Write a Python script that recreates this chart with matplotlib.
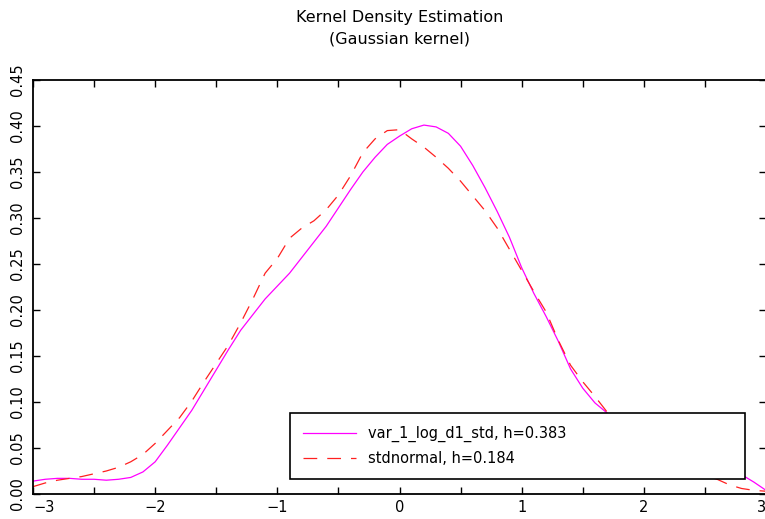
import numpy as np
import matplotlib
matplotlib.use("Agg")
import matplotlib.pyplot as plt
from matplotlib.ticker import MultipleLocator, FormatStrFormatter

# KDE of the standardised series (Gaussian kernel) vs. standard normal
x_data = [-3.0, -2.9, -2.8, -2.7, -2.6, -2.5, -2.4, -2.3, -2.2, -2.1,
          -2.0, -1.9, -1.8, -1.7, -1.6, -1.5, -1.4, -1.3, -1.2, -1.1,
          -1.0, -0.9, -0.8, -0.7, -0.6, -0.5, -0.4, -0.3, -0.2, -0.1,
          0.0, 0.1, 0.2, 0.3, 0.4, 0.5, 0.6, 0.7, 0.8, 0.9,
          1.0, 1.1, 1.2, 1.3, 1.4, 1.5, 1.6, 1.7, 1.8, 1.9,
          2.0, 2.2, 2.4, 2.6, 2.8, 2.9, 3.0]
kde_data = [0.014, 0.016, 0.017, 0.017, 0.016, 0.016, 0.015, 0.016, 0.018, 0.024,
            0.035, 0.053, 0.072, 0.091, 0.113, 0.135, 0.157, 0.178, 0.195, 0.212,
            0.226, 0.240, 0.257, 0.274, 0.291, 0.311, 0.331, 0.350, 0.366, 0.380,
            0.389, 0.397, 0.401, 0.399, 0.392, 0.378, 0.357, 0.333, 0.307, 0.279,
            0.246, 0.218, 0.193, 0.166, 0.136, 0.115, 0.099, 0.088, 0.078, 0.069,
            0.061, 0.049, 0.039, 0.031, 0.021, 0.013, 0.004]

x_norm = [-3.0, -2.9, -2.8, -2.7, -2.6, -2.5, -2.4, -2.3, -2.2, -2.1,
          -2.0, -1.9, -1.8, -1.7, -1.6, -1.5, -1.4, -1.3, -1.2, -1.1,
          -1.0, -0.9, -0.8, -0.7, -0.6, -0.5, -0.4, -0.3, -0.2, -0.1,
          0.0, 0.1, 0.2, 0.3, 0.4, 0.5, 0.6, 0.7, 0.8, 0.9,
          1.0, 1.1, 1.2, 1.3, 1.4, 1.5, 1.6, 1.7, 1.8, 2.0,
          2.2, 2.4, 2.6, 2.7, 2.8, 2.9, 3.0]
kde_norm = [0.008, 0.012, 0.015, 0.017, 0.019, 0.022, 0.025, 0.029, 0.035, 0.043,
            0.055, 0.069, 0.083, 0.101, 0.122, 0.142, 0.162, 0.186, 0.212, 0.240,
            0.256, 0.278, 0.289, 0.297, 0.309, 0.325, 0.346, 0.371, 0.386, 0.395,
            0.396, 0.386, 0.377, 0.366, 0.354, 0.340, 0.324, 0.308, 0.289, 0.266,
            0.243, 0.220, 0.198, 0.167, 0.140, 0.122, 0.106, 0.089, 0.074, 0.052,
            0.036, 0.024, 0.016, 0.010, 0.006, 0.004, 0.003]

labels = ["var_1_log_d1_std, h=0.383", "stdnormal, h=0.184"]

plt.rcParams.update({"font.family": "DejaVu Sans", "font.size": 10.5})

fig = plt.figure(figsize=(7.65, 5.19), dpi=100)
ax = fig.add_axes([33 / 765, 25 / 519, 733 / 765, 414 / 519])

ax.plot(x_data, kde_data, color="#ff00ff", lw=0.9, label=labels[0])
ax.plot(x_norm, kde_norm, color="#ff2020", lw=0.9, linestyle=(0, (11, 8)),
        label=labels[1])

ax.set_xlim(-3, 3)
ax.set_ylim(0, 0.45)
ax.xaxis.set_major_locator(MultipleLocator(1))
ax.xaxis.set_minor_locator(MultipleLocator(0.5))
ax.yaxis.set_major_locator(MultipleLocator(0.05))
ax.yaxis.set_major_formatter(FormatStrFormatter("%.2f"))
ax.tick_params(which="both", direction="in", top=True, right=True,
               length=5, width=1, pad=4)
ax.tick_params(axis="y", pad=6)
fig.canvas.draw()
for lab in ax.get_yticklabels():
    lab.set_rotation(90)
    lab.set_va("center")
# keep the end labels inside the figure
for lab in ax.get_xticklabels():
    xpos = lab.get_position()[0]
    if np.isclose(xpos, -3):
        lab.set_ha("left")
    elif np.isclose(xpos, 3):
        lab.set_ha("right")

for sp in ax.spines.values():
    sp.set_linewidth(1.3)

ax.set_title("Kernel Density Estimation\n(Gaussian kernel)", fontsize=11.5,
             linespacing=1.6, pad=26)

leg = ax.legend(loc="center", bbox_to_anchor=(257 / 733, 16 / 414, 455 / 733, 64 / 414),
                mode="expand", fancybox=False, framealpha=1, edgecolor="black",
                handlelength=3.6, handletextpad=0.85, borderpad=0.9,
                labelspacing=0.65, borderaxespad=0)
leg.get_frame().set_linewidth(1.2)

fig.savefig("out.png", dpi=100)
